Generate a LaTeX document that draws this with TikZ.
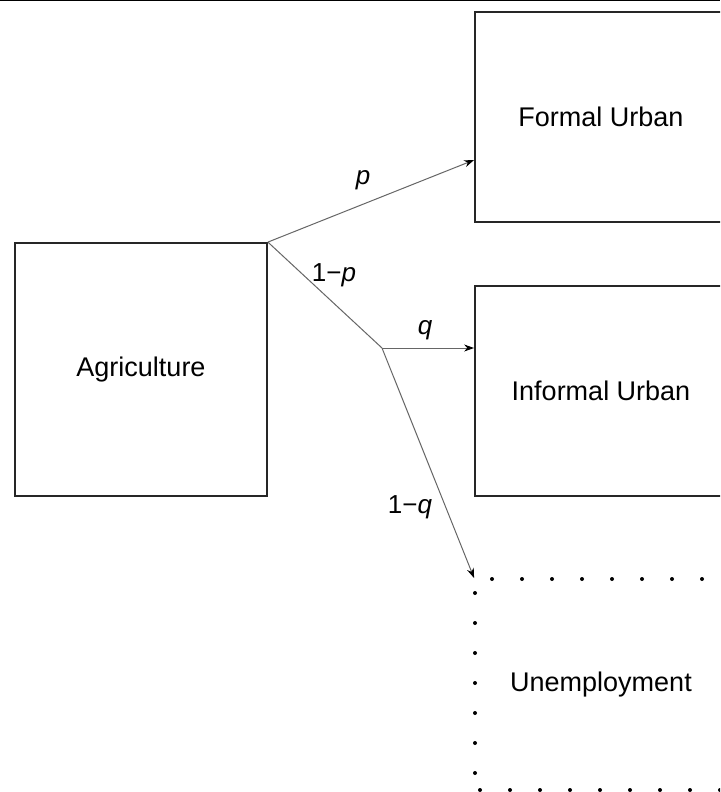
\documentclass[tikz,border=0pt]{standalone}
\usepackage{fontspec}
\setmainfont{Liberation Sans}
\usetikzlibrary{arrows.meta}
\begin{document}
\begin{tikzpicture}[x=1pt,y=-1pt,
  box/.style={draw=black!85, line width=1.8pt, inner sep=0pt,
    minimum width=252pt, minimum height=210pt, font=\fontsize{27}{32}\selectfont},
  plainbox/.style={box, draw=none},
  lbl/.style={inner sep=0pt, font=\fontsize{26}{31}\selectfont},
  flow/.style={draw=black!60, line width=1pt, -{Stealth[length=10pt,width=7pt,color=black]}},
  flowline/.style={draw=black!60, line width=1pt},
  udot/.style={fill=black}
]
\useasboundingbox (0,0) rectangle (720,792);
\clip (0,0) rectangle (720,792);
\fill[white] (0,0) rectangle (720,792);
% top border line
\draw[line width=1.5pt] (0,0.75) -- (720,0.75);

% boxes
\node[box, minimum height=253pt] (agr) at (141,369.5) {Agriculture};
\node[box] (fu) at (601,117) {Formal Urban};
\node[box] (iu) at (601,391) {Informal Urban};
\node[plainbox, minimum height=211pt] (un) at (601,684.5) {Unemployment};

% dotted outline of Unemployment
\foreach \x in {492,522,...,740} \fill[udot] (\x,579) circle (2pt);
\foreach \y in {593,623,...,780} \fill[udot] (475,\y) circle (2pt);
\foreach \x in {480,510,...,740} \fill[udot] (\x,790) circle (2pt);

% branch point
\coordinate (br) at (382,348);

% connectors
\draw[flow] (agr.north east) -- ([yshift=-43pt]fu.west);
\draw[flowline] (agr.north east) -- (br);
\draw[flow] (br) -- (br -| iu.west);
\draw[flow] (br) -- (un.north west);

% labels
\node[lbl] (lp) at (363,180) {\textit{p}};
\node[lbl] (l1p) at (334,275) {1−\textit{p}};
\node[lbl] (lq) at (425,330) {\textit{q}};
\node[lbl] (l1q) at (410,507) {1−\textit{q}};
\end{tikzpicture}
\end{document}
